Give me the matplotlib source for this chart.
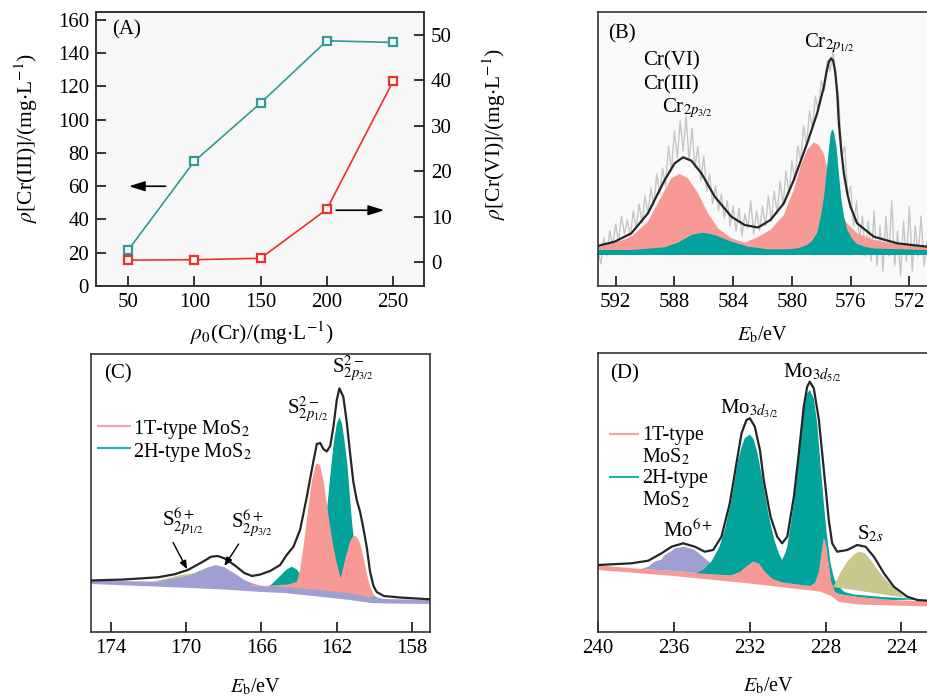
import numpy as np
import matplotlib.pyplot as plt

plt.rcParams['font.family'] = ['Liberation Serif', 'DejaVu Serif']
plt.rcParams['mathtext.fontset'] = 'stix'
plt.rcParams['font.size'] = 15

W, H = 927, 699

# ---- (A) residual Cr concentrations ----
conc = [50, 100, 150, 200, 250]
cr3 = [21.5, 75, 110, 147.5, 146.5]
cr6 = [0.4, 0.5, 0.8, 11.6, 39.8]

# ---- (B) Cr 2p spectrum (eV, intensity a.u.) ----
b_raw = [35, 22, 48, 30, 55, 40, 62, 45, 70, 52, 66, 48, 75, 58, 82, 63, 90, 72, 98, 80,
         112, 92, 118, 100, 140, 115, 155, 128, 165, 135, 170, 125, 158, 118, 140, 105, 130, 95, 112, 82,
         100, 75, 92, 68, 85, 60, 80, 55, 78, 50, 72, 58, 85, 52, 75, 55, 80, 60, 90, 65,
         95, 72, 105, 80, 115, 92, 125, 105, 140, 125, 160, 140, 175, 158, 190, 175, 205, 195, 225, 215,
         235, 205, 185, 130, 140, 90, 100, 60, 85, 45, 70, 30, 65, 25, 75, 20, 60, 15, 70, 30,
         85, 20, 55, 10, 65, 25, 80, 15, 60, 30, 70, 20, 45]
b_raw_x = np.linspace(593.2, 570.8, len(b_raw))
b_fit_x = [593.2, 592.98, 592.07, 590.93, 589.8, 588.66, 587.98, 587.41, 586.84, 586.16, 585.25, 584.12,
           583.21, 582.3, 581.46, 580.55, 579.87, 578.96, 578.28, 577.82, 577.64, 577.48, 577.33, 577.19,
           577.05, 576.91, 576.8, 576.64, 576.46, 576.23, 576.01, 575.56, 574.42, 572.83, 570.79]
b_fit_y = [40, 41, 44.3, 52.7, 72.7, 106, 122.7, 128.7, 125.3, 112.7, 89.3, 69.3,
           61, 58.5, 66, 82.7, 106, 142.7, 172.7, 199.3, 214.3, 224.3, 227.7, 225.3,
           214.3, 192.7, 162.7, 136, 112.7, 92.7, 79.3, 62.7, 49.3, 42.7, 39.3]
b_pink_x = [593.2, 592.98, 591.84, 590.93, 589.8, 588.89, 588.21, 587.64, 587.07, 586.39, 585.71, 585.03,
            584.12, 583.21, 582.3, 581.46, 580.55, 579.87, 579.42, 578.96, 578.51, 578.17, 577.83, 577.49,
            577.15, 576.69, 576.24, 575.56, 574.42, 572.83, 570.79]
b_pink_y = [39.3, 39.5, 44.3, 49.3, 64.3, 89.3, 107.7, 112, 107.7, 92.7, 72.7, 57.7,
            47.7, 43.3, 49, 56, 71, 96, 119.3, 136, 143.7, 141, 132.7, 112,
            89.3, 72.7, 62.7, 52.7, 46, 41.7, 38.7]
b_teal_x = [593.2, 590.9, 588.66, 587.75, 586.84, 586.05, 585.25, 584.12, 582.98, 581.62, 580.2, 579.5,
            578.96, 578.62, 578.28, 578.05, 577.82, 577.64, 577.48, 577.37, 577.26, 577.14, 576.96, 576.8,
            576.64, 576.46, 576.23, 575.89, 575.56, 575.0, 574.42, 570.79]
b_teal_y = [36, 36, 38.7, 43.3, 51, 53.3, 51, 44.3, 39.3, 36.7, 36.7, 38,
            41, 45, 53, 68, 88, 112.7, 136, 151, 156.7, 154.3, 139.3, 112.7,
            88, 70, 56, 47, 42, 39, 37.5, 36]
b_base = 31

# ---- (C) S 2p spectrum ----
c_lo_x = [175.05, 171, 168, 166, 164.8, 163, 161.3, 160.2, 159.5, 157.05]
c_lo_y = [48, 45, 42.5, 40, 39, 35.5, 32, 29, 28.5, 28]
c_hi_x = [175.05, 171.5, 170.97, 170.62, 169.91, 169.38, 168.83, 168.41, 167.97, 167.44, 166.91, 166.38,
          166.02, 164.8, 163, 161.3, 160.2, 159.5, 157.05]
c_hi_y = [51.5, 50.3, 52.7, 53.7, 56, 60.3, 64.7, 67, 64.7, 58.7, 52, 48,
          46, 45, 42, 38.7, 34.5, 33, 32]
c_olive_x = [171.8, 171.0, 170.5, 170.0, 169.5, 169.0, 168.6, 168.3]
c_olive_y = [50.3, 53.5, 56, 58, 58.5, 57, 54, 50]
c_teal_x = [165.6, 165.36, 165.01, 164.66, 164.39, 164.12, 163.86, 163.59, 163.2, 163.0, 162.8, 162.6,
            162.4, 162.3, 162.15, 162.0, 161.86, 161.72, 161.58, 161.44, 161.3, 161.19, 161.0, 160.8,
            160.6, 160.3, 160.0, 159.5]
c_teal_y = [45.5, 49.5, 56, 62.5, 65.3, 62.5, 55, 48, 44, 55, 75, 106,
            145, 165, 190, 208, 215, 208, 190, 168, 135, 110, 78, 56,
            44, 37, 35, 33]
c_pink_x = [166.6, 165.5, 164.6, 164.12, 163.95, 163.86, 163.68, 163.5, 163.33, 163.15, 163.06, 162.95,
            162.88, 162.71, 162.53, 162.35, 162.18, 162.0, 161.79, 161.56, 161.3, 161.15, 161.03, 160.9,
            160.76, 160.59, 160.41, 160.23, 160.02, 159.88]
c_pink_y = [45.5, 46.5, 47.5, 50, 62, 73, 98, 126, 150, 165, 168.7, 168,
            166, 152, 128.7, 105.3, 85.3, 68.7, 53.7, 72, 90.3, 95, 96.3, 94,
            88.7, 75.3, 58.7, 45.3, 37, 35]
c_fit_x = [175.05, 173.3, 171.5, 170.62, 169.91, 169.2, 168.67, 168.32, 167.97, 167.44, 166.91, 166.5,
           166.07, 165.54, 165.01, 164.66, 164.3, 163.95, 163.59, 163.33, 163.06, 162.88, 162.71, 162.53,
           162.35, 162.18, 162.0, 161.86, 161.65, 161.47, 161.3, 161.12, 160.94, 160.76, 160.59, 160.41,
           160.23, 160.05, 159.88, 159.5, 158.64, 157.05]
c_fit_y = [51.5, 52.5, 54.7, 57.7, 62, 69.3, 75.3, 76, 73.7, 67, 59, 56,
           57.5, 61, 67, 77, 85.3, 102, 135.3, 162, 188, 189, 183, 180.5,
           186, 205, 232, 243.7, 235, 210, 180, 150, 132, 120, 104, 85,
           60, 46, 40, 36, 34.5, 32.7]

# ---- (D) Mo 3d spectrum ----
d_pink_top_x = [240.0, 238.0, 236.0, 234.5, 233.0, 232.5, 232.2, 231.8, 231.5, 231.2, 230.8, 230.3,
                229.5, 228.8, 228.55, 228.35, 228.2, 228.09, 227.98, 227.85, 227.7, 227.5, 227.3, 226.3,
                224.5, 222.6]
d_pink_top_y = [66.5, 63.5, 61, 58.5, 56.5, 60, 65, 70.5, 68, 60, 53, 49.5,
                47.5, 46, 49, 60, 80, 94, 88, 70, 50, 40, 38, 35,
                32, 30.5]
d_pink_bot_x = [240.0, 236.0, 232.0, 229.5, 228.3, 227.7, 227.3, 226.3, 224.5, 222.6]
d_pink_bot_y = [62, 56, 48.5, 43, 40.5, 36, 30, 27.5, 26.5, 25.5]
d_purple_x = [237.71, 237.35, 237.0, 236.65, 236.48, 236.12, 235.95, 235.43, 234.89, 234.37, 233.93, 233.49, 233.2]
d_purple_y = [63, 65.3, 70.3, 72.5, 77, 81, 83.7, 85.3, 82, 73.7, 67, 62.7, 57]
d_teal_x = [234.8, 234.4, 234.0, 233.6, 233.3, 232.96, 232.61, 232.43, 232.26, 231.99, 231.8, 231.6,
            231.3, 231.0, 230.7, 230.45, 230.29, 230.1, 230.02, 229.67, 229.41, 229.15, 228.97, 228.83,
            228.62, 228.44, 228.27, 228.09, 227.92, 227.74, 227.53, 227.3, 227.0, 226.5, 225.0, 222.6]
d_teal_y = [58.5, 63, 71, 85, 103, 132, 172, 185, 193.7, 197.5, 193, 180,
            150, 117, 92, 78, 72, 80, 85.3, 128.7, 175.3, 222, 238.7, 242,
            233.7, 208.7, 168.7, 128.7, 95.3, 68.7, 52, 45.3, 40, 37.5, 35, 32.5]
d_olive_x = [227.6, 227.4, 227.2, 226.86, 226.5, 226.24, 225.9, 225.63, 225.1, 224.57, 223.87, 223.16]
d_olive_y = [45, 52, 60, 70.3, 77.5, 80.3, 78.5, 72, 58.7, 47, 35.3, 32.5]
d_fit_x = [240.0, 238.23, 237.35, 236.65, 236.12, 235.51, 234.89, 234.37, 233.93, 233.49, 233.05, 232.7,
           232.43, 232.17, 231.99, 231.73, 231.46, 231.26, 230.9, 230.55, 230.29, 230.02, 229.67, 229.41,
           229.15, 228.97, 228.83, 228.62, 228.35, 228.09, 227.83, 227.65, 227.39, 226.86, 226.33, 225.89,
           225.45, 224.92, 224.4, 223.69, 223.16, 222.64]
d_fit_y = [67, 68.7, 71.3, 78.7, 85.3, 88.7, 85.3, 80.3, 82, 95.3, 128.7, 168.7,
           198.7, 212, 213.7, 205.3, 182, 152, 115.3, 95.3, 88.7, 95.3, 135.3, 178.7,
           225.3, 245.3, 250.3, 243.7, 212, 162, 112, 88.7, 80.3, 82, 87, 85.3,
           75.3, 58.7, 45.3, 35.3, 32, 31.3]

PINK = '#f79a95'
TEAL = '#03a29a'
PURPLE = '#a09fd3'
OLIVE = '#c8c78d'
FIT = '#262626'
A_TEAL = '#2e9b94'
A_RED = '#ee3029'


def box(l, t, r, b):
    return [l / W, 1 - b / H, (r - l) / W, (b - t) / H]


def ftext(x, y, s, **kw):
    fig.text(x / W, 1 - y / H, s, ha='left', va='baseline', **kw)


def on_base(x, y, bx, by):
    # polygon: curve (descending eV) closed back along a baseline curve
    x, y, bx, by = map(np.asarray, (x, y, bx, by))
    m = (bx < x[0]) & (bx > x[-1])
    return np.r_[x, bx[m][::-1]], np.r_[y, by[m][::-1]]


def style(ax):
    for s in ax.spines.values():
        s.set_linewidth(1.2)
        s.set_color('#333333')
    ax.tick_params(direction='in', length=7, width=1.1, labelsize=15, pad=5)


fig = plt.figure(figsize=(W / 100, H / 100), dpi=100)

# ---------------- (A) ----------------
axA = fig.add_axes(box(96, 12, 424, 286), facecolor='#f7f7f7')
axA.plot(conc, cr3, '-s', color=A_TEAL, lw=1.2, ms=6, mfc='white', mew=1.6, zorder=3)
axA.set_xlim(25.8, 273.4)
axA.set_ylim(0, 164.8)
axA.set_xticks(conc)
axA.set_yticks(range(0, 161, 20))
axA2 = axA.twinx()
axA2.plot(conc, cr6, '-s', color=A_RED, lw=1.2, ms=6, mfc='white', mew=1.6, zorder=3)
axA2.set_ylim(-5.3, 55.1)
axA2.set_yticks(range(0, 51, 10))
style(axA)
style(axA2)
arrow = dict(arrowstyle='-|>,head_length=0.8,head_width=0.25', color='k', lw=1.2, mutation_scale=12)
axA.annotate('', xy=(48.5, 60), xytext=(80.4, 60), arrowprops=arrow)
axA2.annotate('', xy=(245.5, 11.4), xytext=(205, 11.4), arrowprops=arrow)
axA.set_xlabel(r'$\rho_0$(Cr)/(mg$\cdot$L$^{-1}$)', fontsize=15.5)
axA.xaxis.set_label_coords(0.506, -0.172)
axA.xaxis.label.set_va('center')
axA.set_ylabel(r'$\rho$[Cr(III)]/(mg$\cdot$L$^{-1}$)', fontsize=15.5)
axA.yaxis.set_label_coords(-0.213, 0.54)
axA.yaxis.label.set(va='center', ha='center', rotation_mode='anchor')
axA2.set_ylabel(r'$\rho$[Cr(VI)]/(mg$\cdot$L$^{-1}$)', fontsize=15.5)
axA2.yaxis.set_label_coords(1.213, 0.555)
axA2.yaxis.label.set(va='center', ha='center', rotation_mode='anchor', rotation=90)

# ---------------- (B) ----------------
axB = fig.add_axes(box(598, 12, 927, 286), facecolor='#f9f9f9')
axB.plot(b_raw_x, b_raw, color='#c6c6c6', lw=1.0, zorder=1)
axB.fill(np.r_[b_pink_x, b_pink_x[-1], b_pink_x[0]], np.r_[b_pink_y, b_base, b_base],
         color=PINK, lw=0, zorder=2)
axB.fill(np.r_[b_teal_x, b_teal_x[-1], b_teal_x[0]], np.r_[b_teal_y, b_base, b_base],
         color=TEAL, lw=0, zorder=2)
axB.plot(b_fit_x, b_fit_y, color=FIT, lw=1.6, zorder=3)
axB.set_xlim(593.2, 570.8)
axB.set_ylim(0, 274)
axB.set_xticks(range(592, 571, -4))
axB.set_yticks([])
axB.spines['right'].set_visible(False)
style(axB)
axB.set_xlabel(r'$E_\mathrm{b}$/eV', fontsize=14.5)
axB.xaxis.set_label_coords(0.50, -0.179)
axB.xaxis.label.set_va('center')

# ---------------- (C) ----------------
axC = fig.add_axes(box(91, 354, 430, 632))
axC.fill(c_olive_x, c_olive_y, color=OLIVE, lw=0, zorder=1)
axC.fill(np.r_[c_hi_x, c_lo_x[::-1]], np.r_[c_hi_y, c_lo_y[::-1]], color=PURPLE, lw=0, zorder=2)
axC.fill(*on_base(c_teal_x, c_teal_y, c_hi_x, c_hi_y), color=TEAL, lw=0, zorder=2)
axC.fill(*on_base(c_pink_x, c_pink_y, c_hi_x, c_hi_y), color=PINK, lw=0, zorder=2)
axC.plot(c_fit_x, c_fit_y, color=FIT, lw=1.6, zorder=3)
axC.set_xlim(175.05, 157.05)
axC.set_ylim(0, 278)
axC.set_xticks(range(174, 157, -4))
axC.set_yticks([])
style(axC)
axC.set_xlabel(r'$E_\mathrm{b}$/eV', fontsize=14.5)
axC.xaxis.set_label_coords(0.484, -0.197)
axC.xaxis.label.set_va('center')
sarrow = dict(arrowstyle='-|>,head_length=0.5,head_width=0.2', color='k', lw=1.0, mutation_scale=10)
axC.annotate('', xy=(169.88, 60.3), xytext=(170.76, 92), arrowprops=sarrow, zorder=4)
axC.annotate('', xy=(168.05, 63.7), xytext=(167.13, 90.3), arrowprops=sarrow, zorder=4)
axC.plot([(98 - 91) / 339, (130 - 91) / 339], [(632 - 426) / 278] * 2, color='#f5a3a3',
         lw=1.5, transform=axC.transAxes)
axC.plot([(98 - 91) / 339, (130 - 91) / 339], [(632 - 448) / 278] * 2, color='#1fb3ad',
         lw=1.5, transform=axC.transAxes)

# ---------------- (D) ----------------
axD = fig.add_axes(box(598, 353, 927, 632))
axD.fill(np.r_[d_pink_top_x, d_pink_bot_x[::-1]], np.r_[d_pink_top_y, d_pink_bot_y[::-1]],
         color=PINK, lw=0, zorder=1)
axD.fill(*on_base(d_purple_x, d_purple_y, d_pink_top_x, d_pink_top_y), color=PURPLE, lw=0, zorder=2)
axD.fill(*on_base(d_teal_x, d_teal_y, d_pink_top_x, d_pink_top_y), color=TEAL, lw=0, zorder=2)
axD.fill(d_olive_x, d_olive_y, color=OLIVE, lw=0, zorder=2)
axD.plot(d_fit_x, d_fit_y, color=FIT, lw=1.6, zorder=3)
axD.set_xlim(240.0, 222.65)
axD.set_ylim(0, 279)
axD.set_xticks(range(240, 223, -4))
axD.set_yticks([])
axD.spines['right'].set_visible(False)
style(axD)
axD.set_xlabel(r'$E_\mathrm{b}$/eV', fontsize=14.5)
axD.xaxis.set_label_coords(0.517, -0.194)
axD.xaxis.label.set_va('center')
axD.plot([(610 - 598) / 329, (638 - 598) / 329], [(632 - 434) / 279] * 2, color='#f5a3a3',
         lw=1.5, transform=axD.transAxes)
axD.plot([(610 - 598) / 329, (638 - 598) / 329], [(632 - 477) / 279] * 2, color='#1fb3ad',
         lw=1.5, transform=axD.transAxes)

# ---------------- texts ----------------
ftext(112, 34, '(A)')
ftext(608, 38, '(B)')
ftext(643, 65, 'Cr(VI)', fontsize=15)
ftext(643, 89, 'Cr(III)', fontsize=15)
ftext(662, 112, r'Cr$_{2p_{3/2}}$', fontsize=15)
ftext(804, 47, r'Cr$_{2p_{1/2}}$', fontsize=15)
ftext(104, 378, '(C)')
ftext(332, 373, r'S$^{2-}_{2p_{3/2}}$', fontsize=15)
ftext(287, 414, r'S$^{2-}_{2p_{1/2}}$', fontsize=15)
ftext(162, 527, r'S$^{6+}_{2p_{1/2}}$', fontsize=15)
ftext(231, 529, r'S$^{6+}_{2p_{3/2}}$', fontsize=15)
ftext(133, 434, r'1T-type MoS$_2$', fontsize=14.5)
ftext(133, 457, r'2H-type MoS$_2$', fontsize=14.5)
ftext(610, 378, '(D)')
ftext(783, 377, r'Mo$_{3d_{5/2}}$', fontsize=15)
ftext(720, 413, r'Mo$_{3d_{3/2}}$', fontsize=15)
ftext(663, 537, r'Mo$^{6+}$', fontsize=15)
ftext(857, 539, r'S$_{2s}$', fontsize=15)
ftext(642, 440, '1T-type', fontsize=14.5)
ftext(642, 462, r'MoS$_2$', fontsize=14.5)
ftext(642, 483, '2H-type', fontsize=14.5)
ftext(642, 505, r'MoS$_2$', fontsize=14.5)

fig.savefig('out.png', dpi=100)
